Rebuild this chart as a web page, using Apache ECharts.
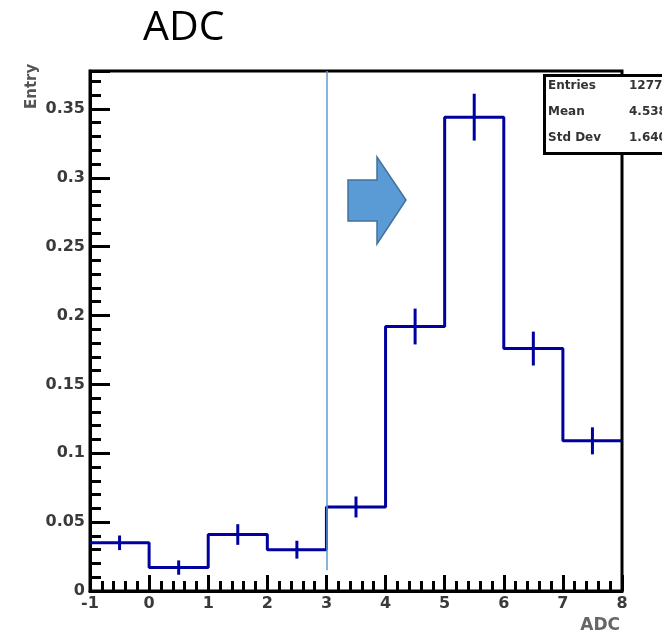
<!DOCTYPE html>
<html>
<head>
<meta charset="utf-8">
<script src="https://cdn.jsdelivr.net/npm/echarts@6/dist/echarts.min.js"></script>
<style>
  html, body { margin: 0; padding: 0; background: #fff; }
  #chart { width: 662px; height: 639px; }
</style>
</head>
<body>
<div id="chart"></div>
<script>
// 直方图数据：bin 边界、每个 bin 的归一化计数、误差
const binEdges = [-1, 0, 1, 2, 3, 4, 5, 6, 7, 8];
const entries = [0.035, 0.017, 0.041, 0.030, 0.061, 0.192, 0.344, 0.176, 0.109];
const errors = [0.0053, 0.0052, 0.0075, 0.0065, 0.0076, 0.013, 0.017, 0.0123, 0.0098];
// 统计框
const statNames = ['Entries', 'Mean', 'Std Dev'];
const statValues = ['1277', '4.538', '1.640'];
const cutAt = 3; // 竖线位置

const axisFont = { fontFamily: 'DejaVu Sans', fontWeight: 'bold', fontSize: 16, color: '#3a3a3a' };

(function () {
	const myChart = echarts.init(document.getElementById('chart'));

	// 阶梯线：每个 bin 左边界一点，最后补上右边界
	const stepData = entries.map((v, i) => [binEdges[i], v]);
	stepData.push([binEdges[binEdges.length - 1], entries[entries.length - 1]]);
	// 误差棒：[bin 中心, 值, 误差]
	const errData = entries.map((v, i) => [(binEdges[i] + binEdges[i + 1]) / 2, v, errors[i]]);

	const statGraphics = [];
	statNames.forEach((name, i) => {
		statGraphics.push({
			type: 'text', left: 548, top: 80 + i * 26,
			style: { text: name, font: 'bold 12px DejaVu Sans', fill: '#333' },
		});
		statGraphics.push({
			type: 'text', left: 629, top: 80 + i * 26,
			style: { text: statValues[i], font: 'bold 12px DejaVu Sans', fill: '#333' },
		});
	});

	myChart.setOption({
		animation: false,
		title: {
			text: 'ADC',
			left: 138,
			top: 3,
			textStyle: { fontFamily: 'Open Sans', fontSize: 41, fontWeight: 'normal', color: '#000' },
		},
		grid: {
			left: 90, right: 40, top: 71, bottom: 48,
			show: true, borderColor: '#000', borderWidth: 3,
		},
		xAxis: {
			type: 'value',
			min: -1, max: 8, interval: 1,
			axisLine: { onZero: false, lineStyle: { color: '#000', width: 3 } },
			axisTick: { inside: true, length: 16, lineStyle: { color: '#000', width: 3 } },
			minorTick: { show: true, splitNumber: 5, length: 10, lineStyle: { color: '#000', width: 3 } },
			splitLine: { show: false },
			axisLabel: Object.assign({ margin: 5 }, axisFont),
		},
		yAxis: {
			type: 'value',
			min: 0, max: 0.3775, interval: 0.05,
			axisLine: { show: true, onZero: false, lineStyle: { color: '#000', width: 3 } },
			axisTick: { show: true, inside: true, length: 20, lineStyle: { color: '#000', width: 3 } },
			minorTick: { show: true, splitNumber: 5, length: 11, lineStyle: { color: '#000', width: 3 } },
			splitLine: { show: false },
			axisLabel: Object.assign({ margin: 5, showMaxLabel: false }, axisFont),
		},
		graphic: [
			// 箭头
			{
				type: 'polygon',
				shape: { points: [[348, 180], [377, 180], [377, 157], [406, 200], [377, 244], [377, 221], [348, 221]] },
				style: { fill: '#5b9bd5', stroke: '#41719c', lineWidth: 1.5 },
			},
			// 统计框
			{
				type: 'rect', left: 543, top: 74, z: 10,
				shape: { width: 140, height: 78 },
				style: { fill: '#fff', stroke: '#000', lineWidth: 3 },
			},
		].concat(statGraphics.map((g) => Object.assign({ z: 11 }, g))).concat([
			{
				type: 'text', right: 42, top: 617,
				style: { text: 'ADC', font: 'bold 17px DejaVu Sans', fill: '#666' },
			},
			{
				type: 'text', x: 25, y: 109, rotation: Math.PI / 2,
				style: { text: 'Entry', font: 'bold 15px DejaVu Sans', fill: '#555' },
			},
		]),
		series: [
			{
				type: 'line',
				step: 'end',
				data: stepData,
				symbol: 'none',
				lineStyle: { color: '#0000a0', width: 3 },
				markLine: {
					silent: true,
					symbol: 'none',
					label: { show: false },
					lineStyle: { color: '#5b9bd5', width: 1.5, type: 'solid' },
					data: [[{ coord: [cutAt, 0.015] }, { coord: [cutAt, 0.3775] }]],
				},
			},
			{
				type: 'custom',
				data: errData,
				renderItem: function (params, api) {
					const x = api.value(0);
					const lo = api.coord([x, api.value(1) - api.value(2)]);
					const hi = api.coord([x, api.value(1) + api.value(2)]);
					return {
						type: 'line',
						shape: { x1: lo[0], y1: lo[1], x2: hi[0], y2: hi[1] },
						style: { stroke: '#0000a0', lineWidth: 3 },
					};
				},
			},
		],
	});
})();
</script>
</body>
</html>
